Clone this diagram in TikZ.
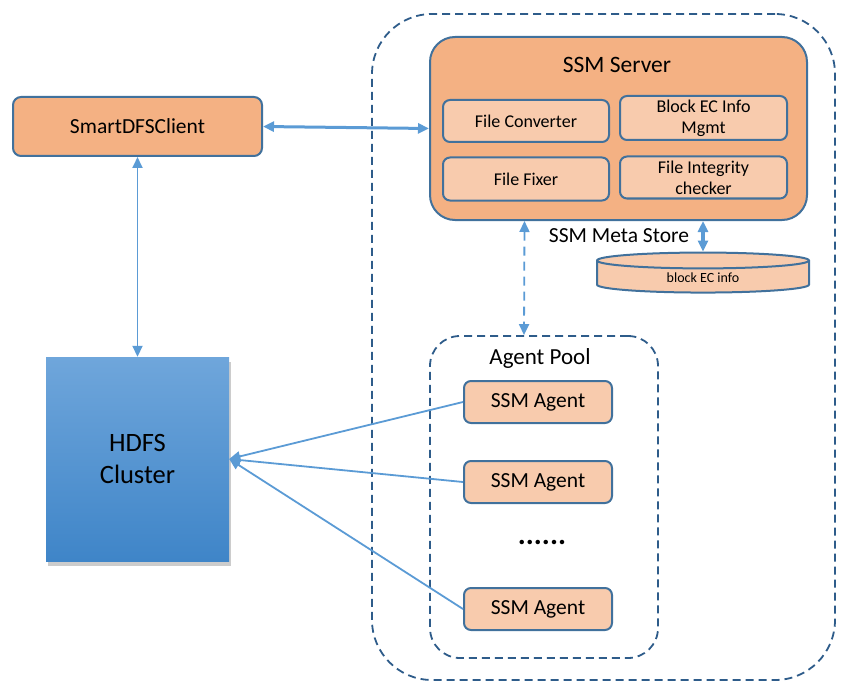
\documentclass[tikz,border=0pt]{standalone}
\usepackage{fontspec}
\setmainfont{Carlito}
\usepackage{xcolor}
\usepackage{tikz}
\usetikzlibrary{shapes.geometric, arrows.meta, positioning, calc, shadows}
\definecolor{ssmorange}{HTML}{F4B183}
\definecolor{ssmlight}{HTML}{F8CBAD}
\definecolor{ssmborder}{HTML}{41719C}
\definecolor{ssmarrow}{HTML}{5B9BD5}
\definecolor{ssmdash}{HTML}{2E5C8A}
\definecolor{hdfstop}{HTML}{6FA6DB}
\definecolor{hdfsbottom}{HTML}{3F85C8}
\tikzstyle{arrow} = [ssmarrow, line width=1.8pt, -{Triangle[length=11pt,width=10pt]}]
\tikzstyle{dblarrow} = [ssmarrow, line width=1.8pt, {Triangle[length=11pt,width=10pt]}-{Triangle[length=11pt,width=10pt]}]
\tikzstyle{orangebox} = [draw=ssmborder, line width=2pt, fill=ssmorange, rounded corners=8pt, font=\fontsize{21.5}{24}\selectfont]
\tikzstyle{subbox} = [draw=ssmborder, line width=2pt, fill=ssmlight, rounded corners=7pt, inner sep=1pt, align=center, font=\fontsize{18}{21}\selectfont]
\tikzstyle{agentbox} = [subbox, font=\fontsize{21.5}{24}\selectfont, minimum width=148pt, minimum height=42pt]
\tikzstyle{dashframe} = [draw=ssmdash, line width=1.8pt, dash pattern=on 8pt off 5pt]

\begin{document}
\begin{tikzpicture}[x=1pt, y=-1pt]
    \useasboundingbox (0,0) rectangle (848,695);

    % SSM frame
    \node[dashframe, rounded corners=60pt, minimum width=463pt, minimum height=666pt] (frame) at (603.5, 347) {};

    % SSM Server
    \node[orangebox, rounded corners=25pt, minimum width=377pt, minimum height=183pt] (server) at (618.5, 128.5) {};
    \node[font=\fontsize{23.5}{26}\selectfont] (servertitle) at (617, 65) {SSM Server};
    \node[subbox, minimum width=166pt, minimum height=42pt] (conv) at (526, 121) {File Converter};
    \node[subbox, minimum width=167pt, minimum height=44pt] (ecinfo) at (703.5, 118) {Block EC Info\\Mgmt};
    \node[subbox, minimum width=166pt, minimum height=43pt] (fixer) at (526, 179) {File Fixer};
    \node[subbox, minimum width=167pt, minimum height=42pt] (integrity) at (703.5, 177.5) {File Integrity\\checker};

    % Client and cluster
    \node[orangebox, minimum width=249pt, minimum height=59pt] (client) at (137.5, 126.5) {SmartDFSClient};
    \node[draw=none, top color=hdfstop, bottom color=hdfsbottom, minimum width=183pt, minimum height=204pt, align=center,
          drop shadow={opacity=0.4, shadow xshift=2pt, shadow yshift=-5pt}, font=\fontsize{26.5}{32}\selectfont] (hdfs) at (137.5, 459) {HDFS\\Cluster};

    % Meta store
    \node[font=\fontsize{21.5}{24}\selectfont] (metalabel) at (619, 236) {SSM Meta Store};
    \node[draw=ssmborder, line width=2pt, fill=ssmlight, cylinder, shape border rotate=90, aspect=0.2,
          minimum width=212pt, minimum height=40pt, font=\fontsize{14}{16}\selectfont] (store) at (703, 278) {block EC info};

    % Agent pool
    \node[dashframe, rounded corners=30pt, minimum width=228pt, minimum height=322pt] (pool) at (544, 497) {};
    \node[font=\fontsize{23}{26}\selectfont] (pooltitle) at (540, 358) {Agent Pool};
    \node[agentbox] (agent1) at (538, 402) {SSM Agent};
    \node[agentbox] (agent2) at (538, 482) {SSM Agent};
    \node[font=\fontsize{30}{30}\selectfont] (dots) at (542, 542) {\textbf{......}};
    \node[agentbox] (agent3) at (538, 609) {SSM Agent};

    % Arrows
    \draw[dblarrow, line width=3pt] (client.east) -- (server.west);
    \draw[dblarrow] (client.south) -- (hdfs.north);
    \draw[dblarrow, line width=3.5pt] (server.south -| store.north) -- (store.north);
    \draw[dblarrow, dash pattern=on 9pt off 6pt] ([xshift=-94pt]server.south) -- ([xshift=-20pt]pool.north);
    \draw[arrow] (agent1.west) -- (hdfs.east);
    \draw[arrow] (agent2.west) -- (hdfs.east);
    \draw[arrow] (agent3.west) -- (hdfs.east);
\end{tikzpicture}
\end{document}
